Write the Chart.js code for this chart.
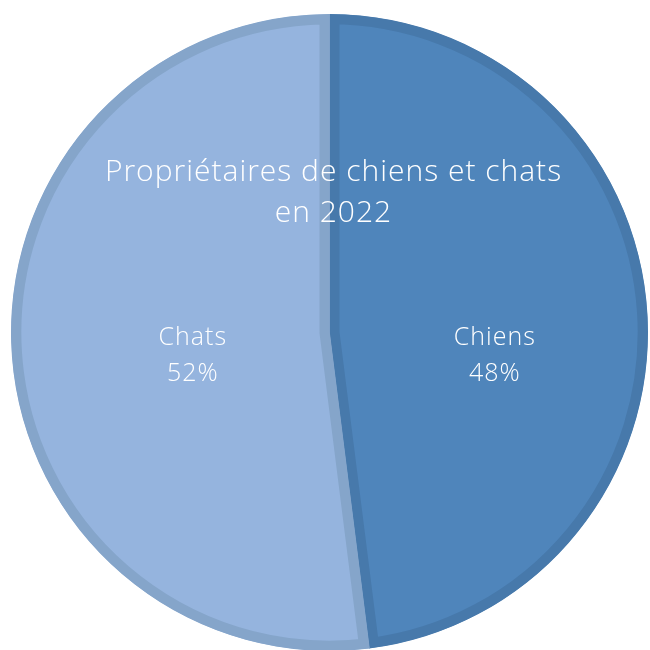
<!DOCTYPE html>
<html>
<head>
<meta charset="utf-8">
<script src="https://cdn.jsdelivr.net/npm/chart.js@4"></script>
<style>
  html, body { margin: 0; padding: 0; background: #fff; overflow: hidden; }
  #wrap { width: 650px; height: 660px; }
</style>
</head>
<body>
<div id="wrap"><canvas id="petsChart"></canvas></div>
<script>
// data
const categories = ['Chiens', 'Chats'];
const shares = [48, 52];
const titleLines = ['Propriétaires de chiens et chats', 'en 2022'];

const fillColors = ['#4f85bb', '#95b4de'];
const rimColors = ['#4779ab', '#85a5ca'];

// labels drawn inside the pie
const pieText = {
    id: 'pieText',
    afterDatasetsDraw(chart) {
        const ctx = chart.ctx;
        const arcs = chart.getDatasetMeta(0).data;
        const cx = arcs[0].x;
        const cy = arcs[0].y;
        const r = arcs[0].outerRadius;
        const labelDist = [0.52, 0.43];

        ctx.save();
        ctx.fillStyle = '#ffffff';
        ctx.textAlign = 'center';
        ctx.textBaseline = 'middle';

        ctx.font = '300 30px "Open Sans"';
        ctx.letterSpacing = '1px';
        titleLines.forEach((line, i) => {
            ctx.fillText(line, cx + 4, cy - 160 + i * 41);
        });

        ctx.font = '300 25px "Open Sans"';
        ctx.letterSpacing = '1px';
        arcs.forEach((arc, i) => {
            const mid = (arc.startAngle + arc.endAngle) / 2;
            const x = cx + Math.cos(mid) * r * labelDist[i];
            const y = cy + 5;
            ctx.fillText(categories[i], x, y);
            ctx.fillText(shares[i] + '%', x, y + 36);
        });
        ctx.restore();
    }
};

new Chart(document.getElementById('petsChart'), {
    type: 'pie',
    data: {
        labels: categories,
        datasets: [{
            data: shares,
            backgroundColor: fillColors,
            borderColor: rimColors,
            borderWidth: 10,
            borderAlign: 'inner'
        }]
    },
    options: {
        responsive: true,
        maintainAspectRatio: false,
        animation: false,
        layout: { padding: { left: 11, right: 2, top: 14, bottom: 9 } },
        plugins: {
            legend: { display: false },
            tooltip: { enabled: false }
        }
    },
    plugins: [pieText]
});
</script>
</body>
</html>
